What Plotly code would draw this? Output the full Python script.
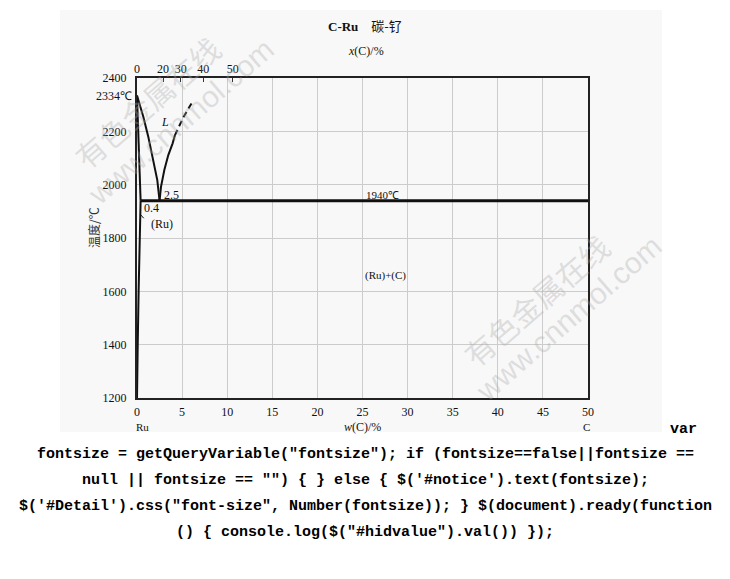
import plotly.graph_objects as go

# ---------------- data ----------------
temp_ticks = [1200, 1400, 1600, 1800, 2000, 2200, 2400]
w_ticks = [0, 5, 10, 15, 20, 25, 30, 35, 40, 45, 50]
at_ticks = [0, 20, 30, 40, 50]           # x(C)/% on the top axis
M_C, M_RU = 12.011, 101.07

ru_melt_T = 2334
eut_T = 1940
eut_w = 2.5
ru_sol_w = 0.4

# Ru solidus (melting point -> 0.4 at eutectic)
sol_w = [0, 0.4]
sol_T = [2334, 1940]
# Ru solvus below eutectic
solv_w = [0.4, 0.29, 0.18, 0.08, 0]
solv_T = [1940, 1800, 1600, 1400, 1200]
# liquidus, Ru side
liqL_w = [0, 0.7, 1.25, 1.81, 2.25, 2.5]
liqL_T = [2334, 2255, 2180, 2093, 2017, 1940]
# liquidus, C side (solid part)
liqR_w = [2.5, 2.66, 3.03, 3.47, 3.95, 4.2]
liqR_T = [1940, 1992, 2055, 2111, 2155, 2185]
# liquidus, C side (dashed part)
liqRd_w = [4.2, 5.1, 6.15]
liqRd_T = [2185, 2250, 2311]
# eutectic isotherm
eutl_w = [0.4, 50]
eutl_T = [1940, 1940]
# small leader mark near 0.4
lead_w = [0.33, 0.75]
lead_T = [1890, 1874]

code_lines = [
    'fontsize = getQueryVariable("fontsize"); if (fontsize==false||fontsize ==',
    'null || fontsize == "") { } else { $(\'#notice\').text(fontsize);',
    '$(\'#Detail\').css("font-size", Number(fontsize)); } $(document).ready(function',
    '() { console.log($("#hidvalue").val()) });',
]

# top axis positions: convert at% to wt%
def at_to_wt(x):
    return 100 * x * M_C / (x * M_C + (100 - x) * M_RU)

top_pos = [at_to_wt(v) for v in at_ticks]

# ---------------- layout helpers ----------------
OFF = 8                      # page body margin
W, H = 730 - 2 * OFF, 579 - 2 * OFF
L, R, T, B = 137 - OFF, 142 - OFF, 78 - OFF, 181 - OFF
PW, PH = W - L - R, H - T - B
def pxx(p):
    return (p - OFF - L) / PW
def pxy(p):
    return (H - B - (p - OFF)) / PH

SERIF = "Liberation Serif, Times New Roman, serif"
CJK = "Noto Sans CJK SC"
LC = "#111"

fig = go.Figure()

def line(xs, ys, dash=None, width=2, xa="x"):
    fig.add_trace(go.Scatter(x=xs, y=ys, mode="lines", xaxis=xa,
                             line=dict(color=LC, width=width, dash=dash),
                             hoverinfo="skip", showlegend=False))

line(sol_w, sol_T)
line(solv_w, solv_T)
line(liqL_w, liqL_T)
line(liqR_w, liqR_T)
line(liqRd_w, liqRd_T, dash="6px,4px")
line(eutl_w, eutl_T, width=3)
line(lead_w, lead_T, width=1)
# invisible trace for top axis
fig.add_trace(go.Scatter(x=[0, 50], y=[1200, 1200], xaxis="x2", mode="lines",
                         line=dict(width=0, color="rgba(0,0,0,0)"),
                         hoverinfo="skip", showlegend=False))

ann = []
def A(text, x, y, size=12, xref="paper", yref="paper", xanchor="center",
      yanchor="middle", family=SERIF, color="#111", angle=0):
    ann.append(dict(text=text, x=x, y=y, xref=xref, yref=yref, xanchor=xanchor,
                    yanchor=yanchor, showarrow=False, textangle=angle,
                    font=dict(family=family, size=size, color=color)))

# chart texts
A("<b>C-Ru</b>    <span style='font-family:Noto Sans CJK SC'>碳-钌</span>",
  pxx(365), pxy(25), size=13)
A("<i>x</i>(C)/%", pxx(366), pxy(51), size=12)
A("<i>w</i>(C)/%", pxx(362), pxy(427), size=12)
A("Ru", pxx(142), pxy(427), size=11)
A("C", pxx(586), pxy(427), size=11)
A("温度/℃", pxx(93), pxy(228), size=12, family=CJK, angle=-90, color="#333")
A("2334℃", 0, ru_melt_T, xref="paper", yref="y", xanchor="right", size=12)
ann[-1]["xshift"] = -3
A("<i>L</i>", 3.1, 2236, xref="x", yref="y", size=12)
A("2.5", 2.75, 1962, xref="x", yref="y", xanchor="left", size=12)
A("0.4", 0.55, 1913, xref="x", yref="y", xanchor="left", size=12)
A("(Ru)", 2.8, 1853, xref="x", yref="y", size=12)
A("1940℃", 27.2, 1961, xref="x", yref="y", size=11)
A("(Ru)+(C)", 27.6, 1661, xref="x", yref="y", size=11)

# watermarks
WM = "rgba(170,170,170,0.35)"
for (cx1, cy1, cx2, cy2) in [(147, 102, 181, 122), (536, 300, 568, 318)]:
    A("有色金属在线", pxx(cx1), pxy(cy1), size=30, family=CJK, color=WM, angle=-41)
    A("www.cnnmol.com", pxx(cx2), pxy(cy2), size=30,
      family="Liberation Sans, Arial", color=WM, angle=-41)

# page code text
MONO = "Liberation Mono, monospace"
A("<b>var</b>", pxx(683), pxy(429), size=15, family=MONO, color="#000")
for i, t in enumerate(code_lines):
    A("<b>" + t.replace("<", "&lt;") + "</b>", pxx(365), pxy(454 + 26 * i),
      size=15, family=MONO, color="#000")

fig.update_layout(
    width=W, height=H, autosize=False,
    margin=dict(l=L, r=R, t=T, b=B, pad=0),
    paper_bgcolor="white", plot_bgcolor="#fafafa",
    showlegend=False,
    annotations=ann,
    shapes=[dict(type="rect", xref="paper", yref="paper",
                 x0=pxx(60), x1=pxx(662), y0=pxy(432), y1=pxy(10),
                 fillcolor="#f8f8f8", line=dict(width=0), layer="below")],
    xaxis=dict(range=[0, 50], tickvals=w_ticks, ticktext=[str(v) for v in w_ticks],
               showgrid=True, gridcolor="#cccccc", gridwidth=1, zeroline=False,
               showline=True, linecolor="#222", linewidth=2, mirror=True,
               ticks="", ticklabelstandoff=2,
               tickfont=dict(family=SERIF, size=12, color="#111")),
    xaxis2=dict(range=[0, 50], overlaying="x", side="top", anchor="y",
                tickvals=top_pos, ticktext=[str(v) for v in at_ticks],
                showgrid=False, zeroline=False, showline=False,
                ticks="inside", ticklen=4, tickcolor="#333", tickwidth=1,
                ticklabelstandoff=2,
                tickfont=dict(family=SERIF, size=12, color="#111")),
    yaxis=dict(range=[1200, 2400], tickvals=temp_ticks,
               ticktext=[str(v) for v in temp_ticks],
               showgrid=True, gridcolor="#cccccc", gridwidth=1, zeroline=False,
               showline=True, linecolor="#222", linewidth=2, mirror=True,
               ticks="", ticklabelstandoff=6,
               tickfont=dict(family=SERIF, size=12, color="#111")),
)

fig.write_html("out.html")
